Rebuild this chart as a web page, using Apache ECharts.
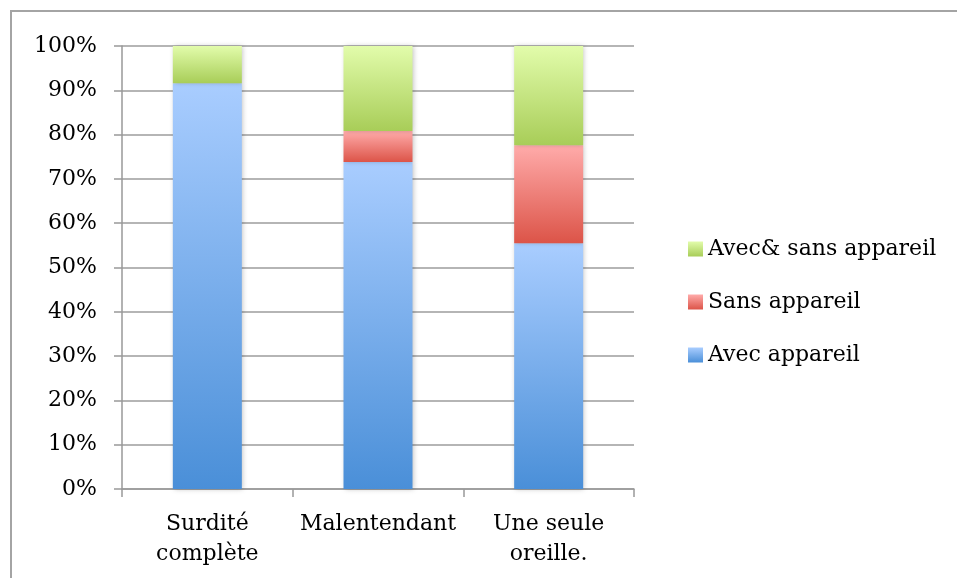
<!DOCTYPE html>
<html>
<head>
<meta charset="utf-8">
<script src="https://cdn.jsdelivr.net/npm/echarts@6/dist/echarts.min.js"></script>
<style>
html,body{margin:0;padding:0;background:#fff;}
#chart{width:957px;height:578px;}
</style>
</head>
<body>
<div id="chart"></div>
<script>
var categories = ['Surdité\ncomplète', 'Malentendant', 'Une seule\noreille.'];
var avecAppareil = [91.6, 73.8, 55.5];
var sansAppareil = [0, 7.0, 22.1];
var avecSans = [8.4, 19.2, 22.4];
var yTicks = { min: 0, max: 100, interval: 10 };
var legendOrder = ['Avec& sans appareil', 'Sans appareil', 'Avec appareil'];

var FONT = 'DejaVu Serif';
function grad(top, bottom) {
  return new echarts.graphic.LinearGradient(0, 0, 0, 1, [
    { offset: 0, color: top }, { offset: 1, color: bottom }
  ]);
}
function barSeries(name, data, top, bottom) {
  return {
    name: name, type: 'bar', stack: 'total', data: data,
    barWidth: 69,
    itemStyle: {
      color: grad(top, bottom),
      shadowBlur: 5, shadowColor: 'rgba(0,0,0,0.25)', shadowOffsetX: 1, shadowOffsetY: 0
    },
    emphasis: { disabled: true }
  };
}

var chart = echarts.init(document.getElementById('chart'), null, { renderer: 'canvas' });
chart.setOption({
  animation: false,
  backgroundColor: '#fff',
  textStyle: { fontFamily: FONT, color: '#000' },
  graphic: [{
    type: 'rect', silent: true,
    shape: { x: 11, y: 11, width: 1200, height: 1200 },
    style: { fill: 'none', stroke: '#a4a4a4', lineWidth: 2 }
  }],
  grid: { left: 122, right: 323, top: 46, bottom: 89, containLabel: false },
  legend: {
    orient: 'vertical', left: 683, top: 233,
    data: legendOrder,
    itemWidth: 15, itemHeight: 15, itemGap: 31,
    icon: 'rect',
    textStyle: { fontFamily: FONT, fontSize: 22, color: '#000', lineHeight: 22 }
  },
  xAxis: {
    type: 'category', data: categories,
    axisLine: { lineStyle: { color: '#999', width: 1.5 } },
    axisTick: { show: true, length: 8, lineStyle: { color: '#999', width: 1.5 } },
    axisLabel: { fontFamily: FONT, fontSize: 22, color: '#000', lineHeight: 30, margin: 20, interval: 0 }
  },
  yAxis: {
    type: 'value', min: yTicks.min, max: yTicks.max, interval: yTicks.interval,
    axisLine: { show: true, lineStyle: { color: '#999', width: 1.5 } },
    axisTick: { show: true, length: 8, lineStyle: { color: '#999', width: 1.5 } },
    splitLine: { lineStyle: { color: '#9c9c9c', width: 1.5 } },
    axisLabel: { fontFamily: FONT, fontSize: 22, color: '#000', margin: 25, formatter: '{value}%' }
  },
  series: [
    barSeries('Avec appareil', avecAppareil, '#a9cdff', '#4a8fd8'),
    barSeries('Sans appareil', sansAppareil, '#ffabaa', '#dc5448'),
    barSeries('Avec& sans appareil', avecSans, '#e2fcab', '#a8cd58')
  ]
});
</script>
</body>
</html>
